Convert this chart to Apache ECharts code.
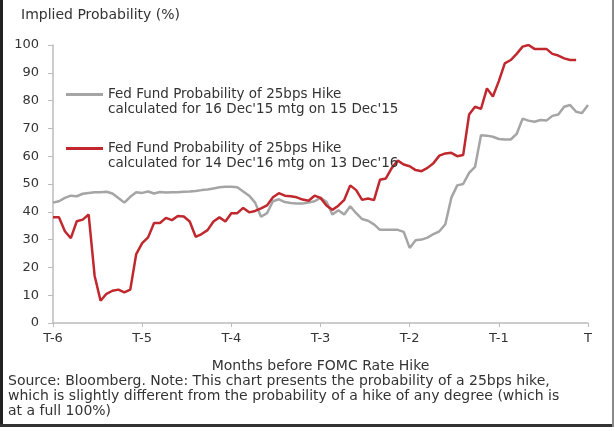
<!DOCTYPE html>
<html>
<head>
<meta charset="utf-8">
<script src="https://cdn.jsdelivr.net/npm/echarts@6/dist/echarts.min.js"></script>
<style>
  html, body { margin: 0; padding: 0; background: #fff; }
  #myChart { width: 615px; height: 431px; }
</style>
</head>
<body>
<div id="myChart"></div>
<script>
// x axis: 15 steps per month, from T-6 to T
const xTickLabels = ["T-6", "T-5", "T-4", "T-3", "T-2", "T-1", "T"];
const stepsPerMonth = 15;
const categories = [];
for (let i = 0; i <= 6 * stepsPerMonth; i++) categories.push(i);

// 16 Dec'15 meeting (grey)
const hike2015 = [
  43.3, 43.8, 45, 45.8, 45.6, 46.5, 46.8, 47, 47, 47.2,
  46.6, 45, 43.3, 45.4, 47, 46.8, 47.3, 46.6, 47.1, 46.9,
  47, 47, 47.2, 47.3, 47.5, 47.8, 48, 48.4, 48.8, 49,
  49, 48.8, 47.3, 45.8, 43.3, 38.2, 39.5, 43.8, 44.5, 43.5,
  43.2, 43, 43, 43.3, 43.8, 45, 43.6, 39, 40.6, 39,
  42, 39.5, 37.4, 36.8, 35.5, 33.5, 33.5, 33.5, 33.5, 32.8,
  27, 29.8, 30, 30.7, 32, 33, 35.5, 45, 49.5, 50,
  54, 56.2, 67.5, 67.4, 67, 66.2, 66, 66, 68, 73.5,
  72.8, 72.4, 73, 72.8, 74.5, 75, 77.8, 78.4, 76, 75.5,
  78.4
];

// 14 Dec'16 meeting (red)
const hike2016 = [
  38, 38, 33, 30.5, 36.6, 37.2, 39, 17, 8, 10.5,
  11.6, 12, 11, 12, 24.8, 28.7, 30.8, 36, 36, 37.8,
  37, 38.5, 38.3, 36.5, 31, 32, 33.4, 36.5, 38, 36.5,
  39.5, 39.5, 41.4, 39.8, 40.3, 41.2, 42.3, 45.2, 46.7, 45.8,
  45.6, 45.2, 44.4, 44, 45.8, 45, 42.3, 40.7, 42.2, 44.3,
  49.5, 47.8, 44.3, 44.8, 44.2, 51.5, 52, 55.8, 58.4, 57,
  56.4, 55, 54.6, 55.8, 57.5, 60.2, 61, 61.2, 60, 60.4,
  75, 77.8, 77, 84.4, 81.5, 87, 93.4, 94.6, 96.8, 99.4,
  100, 98.6, 98.6, 98.6, 96.8, 96.2, 95.2, 94.6, 94.6, null,
  null
];

const seriesNames = [
  "Fed Fund Probability of 25bps Hike\ncalculated for 16 Dec'15 mtg on 15 Dec'15",
  "Fed Fund Probability of 25bps Hike\ncalculated for 14 Dec'16 mtg on 13 Dec'16"
];

const font = "DejaVu Sans";
const textColor = "#333";

let chart = echarts.init(document.getElementById("myChart"));

let option = {
  animation: false,
  backgroundColor: "#fff",
  textStyle: { fontFamily: font },
  title: {
    text: "Implied Probability (%)",
    left: 16,
    top: 3,
    textStyle: { fontFamily: font, fontSize: 14, fontWeight: "normal", color: textColor }
  },
  legend: {
    orient: "vertical",
    left: 61,
    top: 67,
    icon: "rect",
    itemWidth: 37,
    itemHeight: 3,
    itemGap: 9,
    selectedMode: false,
    // blank first line keeps the icon level with the first text line
    formatter: function (name) { return "\n" + name; },
    textStyle: {
      fontFamily: font,
      fontSize: 13.5,
      color: textColor,
      lineHeight: 15
    },
    data: seriesNames
  },
  grid: {
    left: 53,
    right: 27,
    top: 45,
    bottom: 108,
    containLabel: false
  },
  xAxis: {
    type: "category",
    boundaryGap: false,
    data: categories,
    name: "Months before FOMC Rate Hike",
    nameLocation: "middle",
    nameGap: 36,
    nameTextStyle: { fontFamily: font, fontSize: 14, color: textColor },
    axisLine: { lineStyle: { color: "#bbb", width: 1.5 } },
    axisTick: {
      length: 4,
      interval: function (idx) { return idx % stepsPerMonth === 0; },
      lineStyle: { color: "#bbb" }
    },
    axisLabel: {
      interval: function (idx) { return idx % stepsPerMonth === 0; },
      formatter: function (v, idx) { return xTickLabels[idx / stepsPerMonth]; },
      fontFamily: font,
      fontSize: 13,
      color: textColor,
      margin: 9
    },
    splitLine: { show: false }
  },
  yAxis: {
    type: "value",
    min: 0,
    max: 100,
    interval: 10,
    axisLine: { show: true, lineStyle: { color: "#bbb", width: 1.5 } },
    axisTick: { show: true, length: 5, lineStyle: { color: "#bbb" } },
    axisLabel: { fontFamily: font, fontSize: 13, color: textColor, margin: 14 },
    splitLine: { show: false }
  },
  series: [
    {
      name: seriesNames[0],
      type: "line",
      data: hike2015,
      symbol: "none",
      color: "#a5a5a5",
      lineStyle: { width: 2.5, color: "#a5a5a5" }
    },
    {
      name: seriesNames[1],
      type: "line",
      data: hike2016,
      symbol: "none",
      color: "#c0282e",
      lineStyle: { width: 2.5, color: "#c0282e" }
    }
  ],
  graphic: [
    {
      type: "text",
      left: 8,
      top: 374,
      style: {
        text: "Source: Bloomberg. Note: This chart presents the probability of a 25bps hike,\nwhich is slightly different from the probability of a hike of any degree (which is\nat a full 100%)",
        font: "14px " + font,
        fill: textColor,
        lineHeight: 15
      }
    },
    { type: "rect", shape: { x: 0, y: 0, width: 3, height: 427 }, style: { fill: "#222" } },
    { type: "rect", shape: { x: 0, y: 424, width: 614, height: 3 }, style: { fill: "#333" } },
    { type: "rect", shape: { x: 612, y: 0, width: 2, height: 427 }, style: { fill: "#888" } }
  ]
};

chart.setOption(option);
</script>
</body>
</html>
